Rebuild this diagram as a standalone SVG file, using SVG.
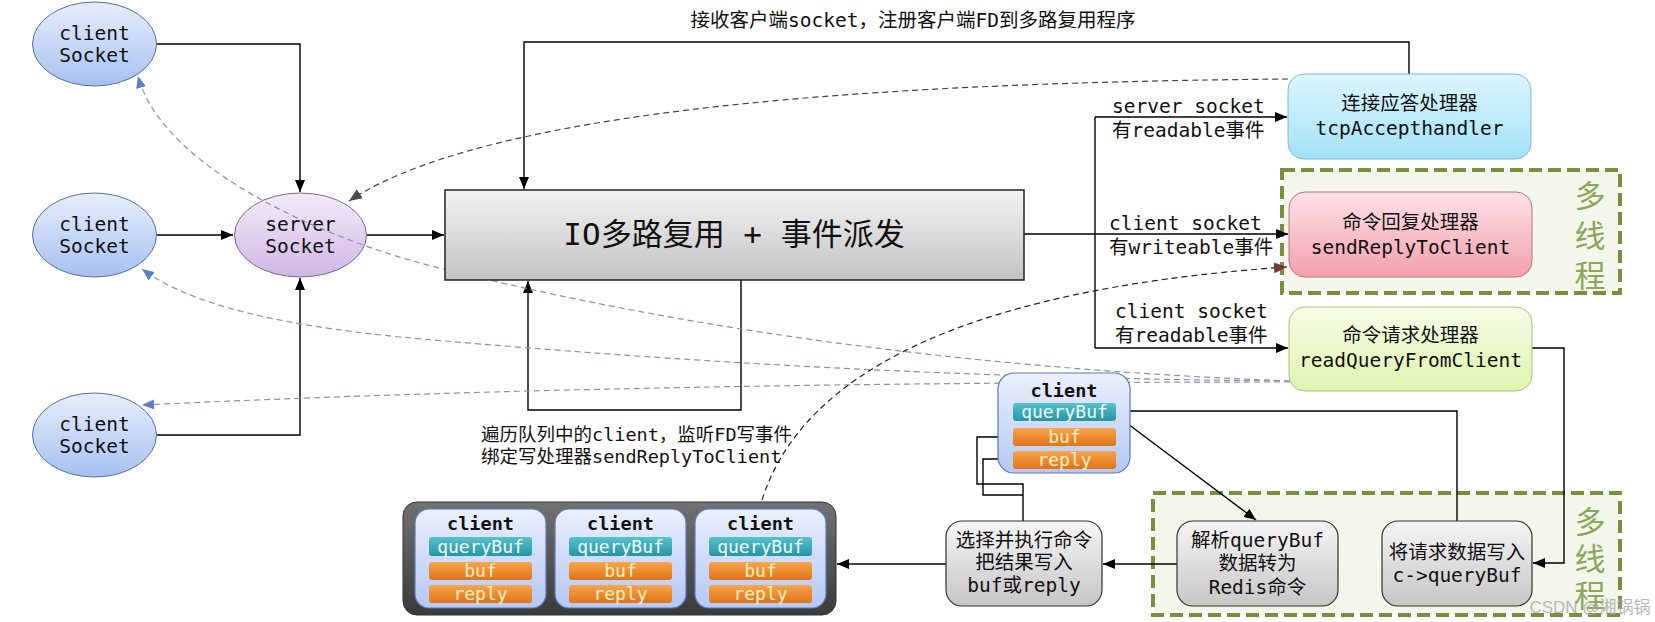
<svg xmlns="http://www.w3.org/2000/svg" width="1655" height="622" viewBox="0 0 1655 622">
<style>
text{font-family:"DejaVu Sans Mono","Noto Sans CJK SC",monospace;font-size:19.5px;fill:#111}
.c{text-anchor:middle}
.ln{fill:none;stroke:#000;stroke-width:1.4}
.ds{fill:none;stroke-width:1.2;stroke-dasharray:6 4}
.grp{fill:#f3f6ea;stroke:#76903c;stroke-width:4;stroke-dasharray:13 6}
.mt{font-family:"Noto Sans CJK SC",sans-serif;font-size:31px;fill:#8ca65a;writing-mode:vertical-rl;text-anchor:start}
.gbox{fill:url(#gGray);stroke:#333;stroke-width:1.2}
.card{fill:url(#gCard);stroke:#5d78b8;stroke-width:1.2}
.qb{fill:url(#gTeal)}
.ob{fill:url(#gOrg)}
.bt{font-size:18px;text-anchor:middle}
.wt{fill:#f2fcff}
.yt{fill:#fff1c4}
.bold{font-weight:bold;text-anchor:middle;font-size:18.5px}
</style>
<defs>
<linearGradient id="gCli" x1="0" y1="0" x2="0" y2="1"><stop offset="0" stop-color="#e6eefc"/><stop offset="1" stop-color="#a6c1f0"/></linearGradient>
<linearGradient id="gSrv" x1="0" y1="0" x2="0" y2="1"><stop offset="0" stop-color="#f3ecf9"/><stop offset="1" stop-color="#d0b6e5"/></linearGradient>
<linearGradient id="gMain" x1="0" y1="0" x2="0" y2="1"><stop offset="0" stop-color="#f3f3f3"/><stop offset="1" stop-color="#c2c2c2"/></linearGradient>
<linearGradient id="gCyan" x1="0" y1="0" x2="0" y2="1"><stop offset="0" stop-color="#dcf6fd"/><stop offset="1" stop-color="#a2e2f6"/></linearGradient>
<linearGradient id="gPink" x1="0" y1="0" x2="0" y2="1"><stop offset="0" stop-color="#fde2e7"/><stop offset="1" stop-color="#f3a0ac"/></linearGradient>
<linearGradient id="gLime" x1="0" y1="0" x2="0" y2="1"><stop offset="0" stop-color="#f7fde8"/><stop offset="1" stop-color="#ddf4ad"/></linearGradient>
<linearGradient id="gGray" x1="0" y1="0" x2="0" y2="1"><stop offset="0" stop-color="#f5f5f5"/><stop offset="1" stop-color="#c6c6c6"/></linearGradient>
<linearGradient id="gCard" x1="0" y1="0" x2="0" y2="1"><stop offset="0" stop-color="#eaf0fd"/><stop offset="1" stop-color="#b4c8f4"/></linearGradient>
<linearGradient id="gDark" x1="0" y1="0" x2="0" y2="1"><stop offset="0" stop-color="#727272"/><stop offset="1" stop-color="#3a3a3a"/></linearGradient>
<linearGradient id="gTeal" x1="0" y1="0" x2="0" y2="1"><stop offset="0" stop-color="#55c2cd"/><stop offset="1" stop-color="#2794a3"/></linearGradient>
<linearGradient id="gOrg" x1="0" y1="0" x2="0" y2="1"><stop offset="0" stop-color="#f8a54c"/><stop offset="1" stop-color="#df7418"/></linearGradient>
<marker id="ab" viewBox="0 0 12 10" refX="12" refY="5" markerWidth="12" markerHeight="10" markerUnits="userSpaceOnUse" orient="auto"><path d="M0,0 L12,5 L0,10 z" fill="#000"/></marker>
<marker id="abl" viewBox="0 0 12 10" refX="12" refY="5" markerWidth="12" markerHeight="10" markerUnits="userSpaceOnUse" orient="auto"><path d="M0,0 L12,5 L0,10 z" fill="#5b7fc9"/></marker>
<marker id="adk" viewBox="0 0 12 10" refX="12" refY="5" markerWidth="13" markerHeight="11" markerUnits="userSpaceOnUse" orient="auto"><path d="M0,0 L12,5 L0,10 z" fill="#4a4a58"/></marker>
<marker id="ard" viewBox="0 0 12 10" refX="12" refY="5" markerWidth="13" markerHeight="11" markerUnits="userSpaceOnUse" orient="auto"><path d="M0,0 L12,5 L0,10 z" fill="#7a3636"/></marker>
</defs>
<rect width="1655" height="622" fill="#fff"/>

<g id="group-multithread-1"><rect class="grp" x="1282" y="170" width="338" height="123"/><text class="mt" x="1590" y="180" style="letter-spacing:9px">多线程</text></g>
<g id="group-multithread-2"><rect class="grp" x="1153" y="493" width="467" height="122"/><text class="mt" x="1590" y="506" style="letter-spacing:6px">多线程</text></g>

<g id="client-socket-1"><ellipse cx="94.5" cy="44" rx="62" ry="42" fill="url(#gCli)" stroke="#5a6f9a"/><text class="c" x="94.5" y="40">client</text><text class="c" x="94.5" y="62">Socket</text></g>
<g id="client-socket-2"><ellipse cx="94.5" cy="235" rx="62" ry="42" fill="url(#gCli)" stroke="#5a6f9a"/><text class="c" x="94.5" y="231">client</text><text class="c" x="94.5" y="253">Socket</text></g>
<g id="client-socket-3"><ellipse cx="94.5" cy="435" rx="62" ry="42" fill="url(#gCli)" stroke="#5a6f9a"/><text class="c" x="94.5" y="431">client</text><text class="c" x="94.5" y="453">Socket</text></g>
<g id="server-socket"><ellipse cx="300.5" cy="235" rx="66" ry="42" fill="url(#gSrv)" stroke="#7a6a90"/><text class="c" x="300.5" y="231">server</text><text class="c" x="300.5" y="253">Socket</text></g>

<g id="connectors">
<path class="ln" d="M157,44 H300 V192" marker-end="url(#ab)"/>
<path class="ln" d="M157,235 H233" marker-end="url(#ab)"/>
<path class="ln" d="M157,435 H300 V278" marker-end="url(#ab)"/>
<path class="ln" d="M367,235 H444" marker-end="url(#ab)"/>
<path class="ln" d="M1409,74 V42 H524 V189" marker-end="url(#ab)"/>
<path class="ln" d="M741,280 V410 H528 V281" marker-end="url(#ab)"/>
<path class="ln" d="M1024,234 H1288" marker-end="url(#ab)"/>
<path class="ln" d="M1095,117 V348"/>
<path class="ln" d="M1095,117 H1287" marker-end="url(#ab)"/>
<path class="ln" d="M1095,348 H1288" marker-end="url(#ab)"/>
<path class="ln" d="M1532,348 H1564 V563 H1533" marker-end="url(#ab)"/>
<path class="ln" d="M1457,521 V411 H1117" marker-end="url(#ab)"/>
<path class="ln" d="M1116,415 L1256,520" marker-end="url(#ab)"/>
<path class="ln" d="M1177,564 H1103" marker-end="url(#ab)"/>
<path class="ln" d="M1023,522 V484 H977 V437 H1012" marker-end="url(#ab)"/>
<path class="ln" d="M1023,495 H983 V459 H1012" marker-end="url(#ab)"/>
<path class="ln" d="M946,564 H837" marker-end="url(#ab)"/>
<path class="ds" stroke="#8a93a6" d="M1290,381 C1000,370 700,335 420,263 C300,230 160,160 138,76" marker-end="url(#abl)"/>
<path class="ds" stroke="#8a93a6" d="M1290,381 C900,378 600,355 400,337 C280,325 190,305 142,269" marker-end="url(#abl)"/>
<path class="ds" stroke="#8a93a6" d="M1290,382 C900,382 500,388 142,405" marker-end="url(#abl)"/>
<path class="ds" stroke="#44444f" d="M1288,79 C950,82 500,100 349,201" marker-end="url(#adk)"/>
<path class="ds" stroke="#222" d="M762,500 C800,380 950,290 1287,267" marker-end="url(#ard)"/>
</g>

<g id="io-multiplex"><rect x="445" y="190" width="579" height="90" fill="url(#gMain)" stroke="#222" stroke-width="1.5"/><text class="c" x="734" y="245" style="font-size:31px">IO多路复用 + 事件派发</text></g>

<g id="labels">
<text class="c" x="913" y="27">接收客户端socket，注册客户端FD到多路复用程序</text>
<text x="1112" y="113">server socket</text><text x="1112" y="137">有readable事件</text>
<text x="1109" y="230">client socket</text><text x="1109" y="254">有writeable事件</text>
<text x="1115" y="318">client socket</text><text x="1115" y="342">有readable事件</text>
<text x="481" y="441" style="font-size:18.5px">遍历队列中的client，监听FD写事件</text>
<text x="481" y="463" style="font-size:18.5px">绑定写处理器sendReplyToClient</text>
</g>

<g id="tcp-accept-handler"><rect x="1288" y="74" width="243" height="85" rx="16" fill="url(#gCyan)" stroke="#7bbccc"/><text class="c" x="1409.5" y="110">连接应答处理器</text><text class="c" x="1409.5" y="135">tcpAccepthandler</text></g>
<g id="send-reply-handler"><rect x="1289" y="192" width="243" height="85" rx="16" fill="url(#gPink)" stroke="#c07080"/><text class="c" x="1410.5" y="229">命令回复处理器</text><text class="c" x="1410.5" y="254">sendReplyToClient</text></g>
<g id="read-query-handler"><rect x="1289" y="307" width="243" height="84" rx="16" fill="url(#gLime)" stroke="#a9c27e"/><text class="c" x="1410.5" y="342">命令请求处理器</text><text class="c" x="1410.5" y="367">readQueryFromClient</text></g>

<g id="client-current"><rect class="card" x="998" y="373" width="132" height="100" rx="16"/><text class="bold" x="1064" y="397">client</text>
<rect class="qb" x="1013" y="403" width="103" height="18" rx="3"/><text class="bt wt" x="1064.5" y="418">queryBuf</text>
<rect class="ob" x="1013" y="428" width="103" height="18" rx="3"/><text class="bt yt" x="1064.5" y="443">buf</text>
<rect class="ob" x="1013" y="451" width="103" height="18" rx="3"/><text class="bt yt" x="1064.5" y="466">reply</text></g>

<g id="write-querybuf"><rect class="gbox" x="1382" y="521" width="150" height="85" rx="16"/><text class="c" x="1457" y="559">将请求数据写入</text><text class="c" x="1457" y="582">c-&gt;queryBuf</text></g>
<g id="parse-querybuf"><rect class="gbox" x="1177" y="521" width="161" height="85" rx="16"/><text class="c" x="1257.5" y="547">解析queryBuf</text><text class="c" x="1257.5" y="570">数据转为</text><text class="c" x="1257.5" y="594">Redis命令</text></g>
<g id="exec-command"><rect class="gbox" x="946" y="521" width="156" height="85" rx="16"/><text class="c" x="1024" y="547">选择并执行命令</text><text class="c" x="1024" y="569">把结果写入</text><text class="c" x="1024" y="592">buf或reply</text></g>

<g id="client-queue"><rect x="403" y="502" width="433" height="113" rx="14" fill="url(#gDark)" stroke="#333"/>
<rect class="card" x="415" y="509" width="131" height="99" rx="14"/><text class="bold" x="480.5" y="530">client</text>
<rect class="qb" x="429" y="537" width="103" height="19" rx="3"/><text class="bt wt" x="480.5" y="553">queryBuf</text>
<rect class="ob" x="429" y="562" width="103" height="18" rx="3"/><text class="bt yt" x="480.5" y="577">buf</text>
<rect class="ob" x="429" y="585" width="103" height="18" rx="3"/><text class="bt yt" x="480.5" y="600">reply</text>
<rect class="card" x="555" y="509" width="131" height="99" rx="14"/><text class="bold" x="620.5" y="530">client</text>
<rect class="qb" x="569" y="537" width="103" height="19" rx="3"/><text class="bt wt" x="620.5" y="553">queryBuf</text>
<rect class="ob" x="569" y="562" width="103" height="18" rx="3"/><text class="bt yt" x="620.5" y="577">buf</text>
<rect class="ob" x="569" y="585" width="103" height="18" rx="3"/><text class="bt yt" x="620.5" y="600">reply</text>
<rect class="card" x="695" y="509" width="131" height="99" rx="14"/><text class="bold" x="760.5" y="530">client</text>
<rect class="qb" x="709" y="537" width="103" height="19" rx="3"/><text class="bt wt" x="760.5" y="553">queryBuf</text>
<rect class="ob" x="709" y="562" width="103" height="18" rx="3"/><text class="bt yt" x="760.5" y="577">buf</text>
<rect class="ob" x="709" y="585" width="103" height="18" rx="3"/><text class="bt yt" x="760.5" y="600">reply</text>
</g>

<text x="1590" y="613" class="c" style="font-family:'Liberation Sans','Noto Sans CJK SC',sans-serif;font-size:17px;fill:#aaa;opacity:0.8">CSDN @湘锅锅</text>
</svg>
